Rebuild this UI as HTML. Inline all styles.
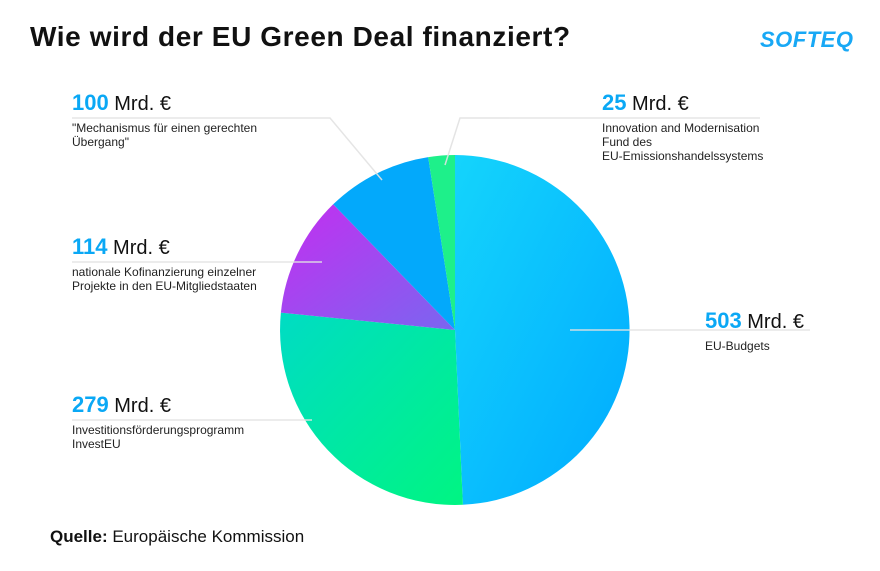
<!DOCTYPE html>
<html><head><meta charset="utf-8"><style>
body{margin:0;width:880px;height:566px;background:#fff;overflow:hidden;font-family:"Liberation Sans",sans-serif}
</style></head><body>
<svg width="880" height="566" viewBox="0 0 880 566" xmlns="http://www.w3.org/2000/svg" font-family="Liberation Sans, sans-serif">
<defs>
<linearGradient id="gb" x1="0" y1="0" x2="1" y2="1"><stop offset="0" stop-color="#14d4fc"/><stop offset="1" stop-color="#00aaff"/></linearGradient>
<linearGradient id="gg" x1="0" y1="0" x2="1" y2="1"><stop offset="0" stop-color="#00dcc4"/><stop offset="1" stop-color="#00f582"/></linearGradient>
<linearGradient id="gp" x1="0" y1="0" x2="1" y2="1"><stop offset="0" stop-color="#c42ef0"/><stop offset="1" stop-color="#7a66f0"/></linearGradient>
</defs>
<text x="30" y="46" font-size="28" font-weight="bold" fill="#111" letter-spacing="0.6">Wie wird der EU Green Deal finanziert?</text>
<text x="760" y="47" font-size="22" font-weight="bold" font-style="italic" fill="#18a8f5" letter-spacing="0.5">SOFTEQ</text>
<path d="M455,330 L455,155 A175,175 0 0 1 462.9,504.8 Z" fill="url(#gb)"/>
<path d="M455,330 L462.9,504.8 A175,175 0 0 1 280.9,312.6 Z" fill="url(#gg)"/>
<path d="M455,330 L280.9,312.6 A175,175 0 0 1 333.2,204.3 Z" fill="url(#gp)"/>
<path d="M455,330 L333.2,204.3 A175,175 0 0 1 428.2,157.1 Z" fill="#03a9fb"/>
<path d="M455,330 L428.2,157.1 A175,175 0 0 1 455,155 Z" fill="#1ef08a"/>
<g stroke="#e2e2e2" stroke-width="1.5" fill="none" opacity="0.9">
<polyline points="72,118 330,118 382,180"/>
<polyline points="760,118 460,118 445,165"/>
<polyline points="72,262 322,262"/>
<polyline points="72,420 312,420"/>
<polyline points="570,330 810,330"/>
</g>
<g font-size="20" fill="#111">
<text x="72" y="110"><tspan font-weight="bold" font-size="22" fill="#0aa8f5">100</tspan> Mrd. €</text>
<text x="602" y="110"><tspan font-weight="bold" font-size="22" fill="#0aa8f5">25</tspan> Mrd. €</text>
<text x="72" y="254"><tspan font-weight="bold" font-size="22" fill="#0aa8f5">114</tspan> Mrd. €</text>
<text x="705" y="328"><tspan font-weight="bold" font-size="22" fill="#0aa8f5">503</tspan> Mrd. €</text>
<text x="72" y="412"><tspan font-weight="bold" font-size="22" fill="#0aa8f5">279</tspan> Mrd. €</text>
</g>
<g font-size="12" fill="#222">
<text x="72" y="132">"Mechanismus für einen gerechten</text>
<text x="72" y="146">Übergang"</text>
<text x="602" y="132">Innovation and Modernisation</text>
<text x="602" y="146">Fund des</text>
<text x="602" y="160">EU-Emissionshandelssystems</text>
<text x="72" y="276">nationale Kofinanzierung einzelner</text>
<text x="72" y="290">Projekte in den EU-Mitgliedstaaten</text>
<text x="705" y="350">EU-Budgets</text>
<text x="72" y="434">Investitionsförderungsprogramm</text>
<text x="72" y="448">InvestEU</text>
</g>
<text x="50" y="542" font-size="17" fill="#111"><tspan font-weight="bold">Quelle:</tspan> Europäische Kommission</text>
</svg>
</body></html>
